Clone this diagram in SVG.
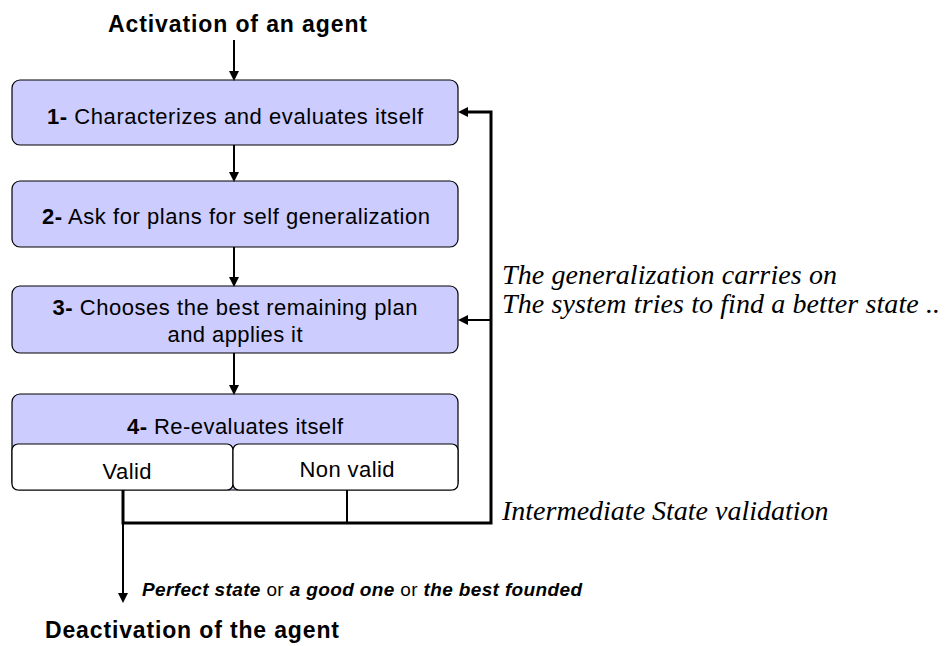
<svg xmlns="http://www.w3.org/2000/svg" width="945" height="646" viewBox="0 0 945 646">
<style>
.box{fill:#CCCCFF;stroke:#000;stroke-width:1.2}
.cell{fill:#fff;stroke:#000;stroke-width:1.2}
.t{font-family:"Liberation Sans",Arial,sans-serif;font-size:22px;fill:#000;text-anchor:middle}
.h{font-family:"Liberation Sans",Arial,sans-serif;font-size:23px;font-weight:bold;fill:#000}
.n{font-weight:bold}
.bi{font-weight:bold;font-style:italic}
.s{font-family:"Liberation Serif","Times New Roman",serif;font-style:italic;font-size:28px;fill:#000}
.c{fill:none;stroke:#000;stroke-width:3}
.c2{fill:none;stroke:#000;stroke-width:2}
</style>
<defs>
<marker id="ah" markerWidth="10" markerHeight="10" refX="8" refY="5" orient="auto" markerUnits="userSpaceOnUse">
<path d="M0,0 L10,5 L0,10 Z" fill="#000"/>
</marker>
</defs>
<g id="title-top"><text class="h" x="108" y="32" textLength="259" lengthAdjust="spacing">Activation of an agent</text></g>
<g id="node1">
<rect class="box" x="12" y="80" width="446" height="65" rx="8"/>
<text class="t" x="235" y="124" textLength="376" lengthAdjust="spacing"><tspan class="n">1-</tspan> Characterizes and evaluates itself</text>
</g>
<g id="node2">
<rect class="box" x="12" y="181" width="446" height="66" rx="8"/>
<text class="t" x="236" y="224" textLength="388" lengthAdjust="spacing"><tspan class="n">2-</tspan> Ask for plans for self generalization</text>
</g>
<g id="node3">
<rect class="box" x="12" y="286" width="446" height="67" rx="8"/>
<text class="t" x="235" y="315" textLength="365" lengthAdjust="spacing"><tspan class="n">3-</tspan> Chooses the best remaining plan</text>
<text class="t" x="235" y="342" textLength="135" lengthAdjust="spacing">and applies it</text>
</g>
<g id="node4">
<rect class="box" x="12" y="394" width="446" height="96" rx="8"/>
<text class="t" x="235" y="434" textLength="216" lengthAdjust="spacing"><tspan class="n">4-</tspan> Re-evaluates itself</text>
<rect class="cell" x="12" y="444" width="221" height="46" rx="6"/>
<rect class="cell" x="233" y="444" width="225" height="46" rx="6"/>
<text class="t" x="127" y="479" textLength="49" lengthAdjust="spacing">Valid</text>
<text class="t" x="347" y="477" textLength="95" lengthAdjust="spacing">Non valid</text>
</g>
<g id="labels">
<text class="s" x="502" y="284" textLength="335" lengthAdjust="spacing">The generalization carries on</text>
<text class="s" x="502" y="313" textLength="438" lengthAdjust="spacing">The system tries to find a better state ..</text>
<text class="s" x="502" y="520">Intermediate State validation</text>
<text x="142" y="596" font-family="Liberation Sans,Arial,sans-serif" font-size="19" fill="#000" textLength="440" lengthAdjust="spacing"><tspan class="bi">Perfect state</tspan> or <tspan class="bi">a good one</tspan> or <tspan class="bi">the best founded</tspan></text>
<text class="h" x="45" y="638" textLength="294" lengthAdjust="spacing">Deactivation of the agent</text>
</g>
<g id="connectors">
<line class="c2" x1="234" y1="40" x2="234" y2="79" marker-end="url(#ah)"/>
<line class="c2" x1="234" y1="145" x2="234" y2="180" marker-end="url(#ah)"/>
<line class="c2" x1="234" y1="247" x2="234" y2="285" marker-end="url(#ah)"/>
<line class="c2" x1="234" y1="353" x2="234" y2="393" marker-end="url(#ah)"/>
<polyline class="c" points="123,490 123,523 491,523 491,112 468,112"/>
<line class="c2" x1="347" y1="490" x2="347" y2="523"/>
<line class="c2" x1="491" y1="320" x2="460" y2="320" marker-end="url(#ah)"/>
<line class="c2" x1="470" y1="112" x2="460" y2="112" marker-end="url(#ah)"/>
<line class="c2" x1="123" y1="523" x2="123" y2="601" marker-end="url(#ah)"/>
</g>
</svg>
